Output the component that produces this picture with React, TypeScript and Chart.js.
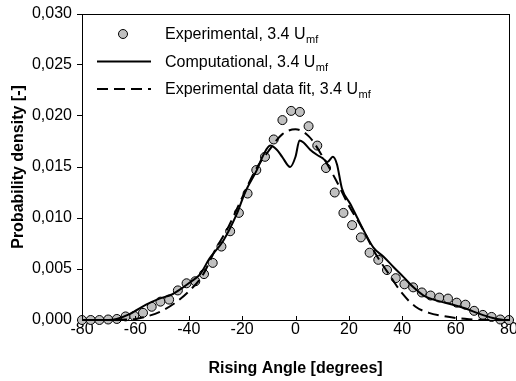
import React, { useEffect, useRef } from "react";
import { Chart, registerables } from "chart.js";

Chart.register(...registerables);

const FONT = "'Liberation Sans', Arial, Helvetica, sans-serif";

// Experimental data (circles)
const expAngles = [
  -80, -76.73, -73.47, -70.2, -66.94, -63.67, -60.41, -57.14, -53.88, -50.61,
  -47.35, -44.08, -40.82, -37.55, -34.29, -31.02, -27.76, -24.49, -21.22, -17.96,
  -14.69, -11.43, -8.16, -4.9, -1.63, 1.63, 4.9, 8.16, 11.43, 14.69,
  17.96, 21.22, 24.49, 27.76, 31.02, 34.29, 37.55, 40.82, 44.08, 47.35,
  50.61, 53.88, 57.14, 60.41, 63.67, 66.94, 70.2, 73.47, 76.73, 80,
];
const expDensity = [
  0, 0, 0, 0.00005, 0.0001, 0.00035, 0.0004, 0.0007, 0.0013, 0.0018,
  0.002, 0.0029, 0.0036, 0.0038, 0.0045, 0.0056, 0.0072, 0.0087, 0.0105, 0.0124,
  0.0147, 0.016, 0.0177, 0.0196, 0.0205, 0.0204, 0.019, 0.0171, 0.0149, 0.0125,
  0.0105, 0.0093, 0.0081, 0.0066, 0.0059, 0.0049, 0.0041, 0.0035, 0.0032, 0.0027,
  0.0024, 0.0022, 0.0021, 0.0017, 0.0015, 0.0009, 0.0005, 0.0003, 0.00005, 0,
];

// Computational (solid line)
const compAngles = [
  -80, -70, -67, -62, -56, -51, -46.3, -43.2, -39.5, -35.7,
  -32.3, -27, -22, -18.9, -14.5, -12, -9.5, -7, -5, -2,
  0, 1.5, 3, 5.5, 8, 10, 12, 14, 15.5, 17.4,
  20.5, 23, 25.5, 29.2, 33, 36.7, 40.5, 44.2, 48, 53,
  59, 64, 69, 74, 79, 80,
];
const compDensity = [
  0, 0, 0.0001, 0.0006, 0.0015, 0.0021, 0.0025, 0.003, 0.0037, 0.0045,
  0.006, 0.0078, 0.0104, 0.0125, 0.0147, 0.0162, 0.0171, 0.0167, 0.016, 0.015,
  0.016, 0.0176, 0.0174, 0.0167, 0.0162, 0.0159, 0.0155, 0.016, 0.0153, 0.0129,
  0.0114, 0.0101, 0.0088, 0.0071, 0.0062, 0.0052, 0.0042, 0.0032, 0.0024, 0.0019,
  0.0015, 0.0011, 0.0006, 0.0002, 0, 0,
];

// Experimental data fit (dashed line)
const fitAngles = [
  -80, -75, -70, -65, -60, -55, -50, -45, -40, -35, -30, -25, -20, -15, -10, -5, 0,
  5, 10, 15, 20, 25, 30, 35, 40, 45, 50, 55, 60, 65, 70, 75, 80,
];
const fitDensity = [
  0, 0, 0, 0.00003, 0.0001, 0.0004, 0.0009, 0.0017, 0.0028, 0.0043, 0.0069, 0.0092, 0.012, 0.0147, 0.0166, 0.0182, 0.0187,
  0.018, 0.0161, 0.0138, 0.0112, 0.009, 0.0065, 0.0045, 0.0026, 0.0013, 0.0007, 0.0004, 0.0002, 0.00008, 0.00002, 0, 0,
];

const xTicks = [-80, -60, -40, -20, 0, 20, 40, 60, 80];
const yTicks = [0, 0.005, 0.01, 0.015, 0.02, 0.025, 0.03];

const legendMain = ["Experimental, 3.4 U", "Computational, 3.4 U", "Experimental data fit, 3.4 U"];
const legendSub = "mf";
const xTitle = "Rising Angle [degrees]";
const yTitle = "Probability density [-]";

const toXY = (xs: number[], ys: number[]) => xs.map((x, i) => ({ x, y: ys[i] }));

const framePlugin = {
  id: "frameAndLegend",
  afterDraw(chart: any) {
    const { ctx, chartArea: a } = chart;
    ctx.save();
    ctx.strokeStyle = "#000";
    ctx.lineWidth = 1;
    ctx.strokeRect(Math.round(a.left) + 0.5, Math.round(a.top) + 0.5, Math.round(a.right - a.left), Math.round(a.bottom - a.top));
    // inner x ticks
    const xs = chart.scales.x;
    for (const t of xs.ticks) {
      const px = Math.round(xs.getPixelForValue(t.value)) + 0.5;
      ctx.beginPath();
      ctx.moveTo(px, a.bottom - 4);
      ctx.lineTo(px, a.bottom);
      ctx.stroke();
    }
    // legend
    const rows = [34, 61.5, 89];
    const x0 = 97, x1 = 151, tx = 165;
    rows.forEach((cy, i) => {
      ctx.strokeStyle = "#000";
      if (i === 0) {
        ctx.beginPath();
        ctx.arc(123, cy, 4.5, 0, Math.PI * 2);
        ctx.fillStyle = "#c0c0c0";
        ctx.fill();
        ctx.lineWidth = 1;
        ctx.stroke();
      } else {
        ctx.lineWidth = 2;
        ctx.setLineDash(i === 2 ? [11, 6] : []);
        ctx.beginPath();
        ctx.moveTo(x0, cy);
        ctx.lineTo(x1, cy);
        ctx.stroke();
        ctx.setLineDash([]);
      }
      ctx.fillStyle = "#000";
      ctx.textBaseline = "alphabetic";
      ctx.textAlign = "left";
      ctx.font = `16px ${FONT}`;
      const base = cy + 5;
      ctx.fillText(legendMain[i], tx, base);
      const w = ctx.measureText(legendMain[i]).width;
      ctx.font = `11px ${FONT}`;
      ctx.fillText(legendSub, tx + w + 0.5, base + 4);
    });
    ctx.restore();
  },
};

export default function App() {
  const ref = useRef<HTMLCanvasElement>(null);
  useEffect(() => {
    const canvas = ref.current;
    if (!canvas) return;
    const chart = new Chart(canvas, {
      type: "scatter",
      data: {
        datasets: [
          {
            label: "Computational, 3.4 Umf",
            data: toXY(compAngles, compDensity),
            showLine: true,
            borderColor: "#000",
            borderWidth: 2,
            pointRadius: 0,
            cubicInterpolationMode: "monotone",
            fill: false,
          },
          {
            label: "Experimental data fit, 3.4 Umf",
            data: toXY(fitAngles, fitDensity),
            showLine: true,
            borderColor: "#000",
            borderWidth: 2,
            borderDash: [11, 6],
            pointRadius: 0,
            cubicInterpolationMode: "monotone",
            fill: false,
          },
          {
            label: "Experimental, 3.4 Umf",
            data: toXY(expAngles, expDensity),
            showLine: false,
            pointRadius: 4.5,
            pointBackgroundColor: "#c0c0c0",
            pointBorderColor: "#000",
            pointBorderWidth: 1,
            clip: false as any,
          },
        ],
      } as any,
      options: {
        responsive: false,
        animation: false,
        devicePixelRatio: 1,
        layout: { padding: { top: 14, right: 7, left: 0, bottom: 0 } },
        plugins: { legend: { display: false }, tooltip: { enabled: false } },
        scales: {
          x: {
            type: "linear",
            min: -80,
            max: 80,
            afterBuildTicks: (s: any) => { s.ticks = xTicks.map((v) => ({ value: v })); },
            afterFit: (s: any) => { s.height = 61; s.paddingLeft = 0; s.paddingRight = 0; },
            grid: { display: true, drawOnChartArea: false, drawTicks: false },
            border: { display: true, color: "#000", width: 1 },
            ticks: {
              autoSkip: false,
              maxRotation: 0,
              padding: 0,
              color: "#000",
              font: { family: FONT, size: 16 },
              callback: (v: any) => String(v),
            },
            title: {
              display: true,
              text: xTitle,
              color: "#000",
              font: { family: FONT, size: 16, weight: "bold" },
              padding: { top: 0, bottom: 3 },
            },
          },
          y: {
            type: "linear",
            min: 0,
            max: 0.03,
            afterBuildTicks: (s: any) => { s.ticks = yTicks.map((v) => ({ value: v })); },
            afterFit: (s: any) => { s.width = 82; s.paddingTop = 0; s.paddingBottom = 0; },
            grid: { display: true, drawOnChartArea: false, drawTicks: true, tickLength: 5, color: "#000" },
            border: { display: true, color: "#000", width: 1 },
            ticks: {
              autoSkip: false,
              padding: 5,
              color: "#000",
              font: { family: FONT, size: 16 },
              callback: (v: any) => Number(v).toFixed(3).replace(".", ","),
            },
            title: {
              display: true,
              text: yTitle,
              color: "#000",
              font: { family: FONT, size: 16, weight: "bold" },
              padding: { top: 9, bottom: 0 },
            },
          },
        },
      } as any,
      plugins: [framePlugin],
    });
    return () => chart.destroy();
  }, []);
  return (
    <div style={{ position: "fixed", left: 0, top: 0, width: 516, height: 381, background: "#fff" }}>
      <canvas ref={ref} width={516} height={381} style={{ width: 516, height: 381, display: "block" }} />
    </div>
  );
}
